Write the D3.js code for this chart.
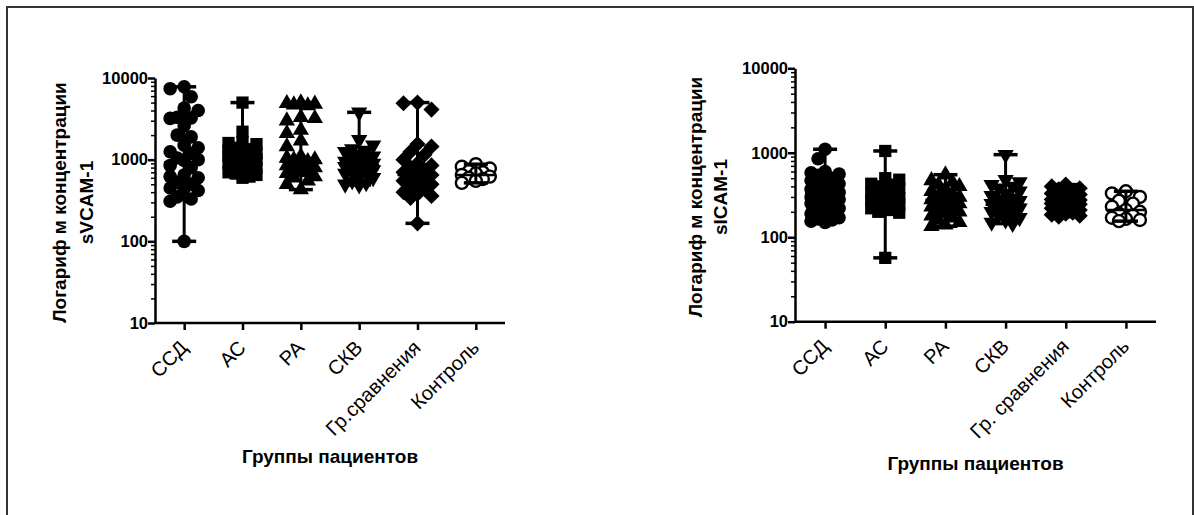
<!DOCTYPE html>
<html>
<head>
<meta charset="utf-8">
<script src="https://cdn.jsdelivr.net/npm/d3@7"></script>
<style>
  body { margin: 0; background: #fff; }
  text { font-family: Arial, "Liberation Sans", sans-serif; fill: #000; }
</style>
</head>
<body>
<svg id="chart" width="1194" height="515"></svg>
<script>
// категории
const groupsV = ["ССД", "АС", "РА", "СКВ", "Гр.сравнения", "Контроль"];
const groupsI = ["ССД", "АС", "РА", "СКВ", "Гр. сравнения", "Контроль"];
const shapes = ["circle", "square", "triangle", "triangleDown", "diamond", "open"];
const yTicks = [10, 100, 1000, 10000];

// sVCAM-1
const vcamSSD = [7800, 7400, 5900, 4300, 4000, 3300, 3250, 3200, 2600, 2000, 1900, 1500, 1400, 1250, 1200, 1050, 1000, 980, 850, 800, 650, 620, 600, 530, 500, 450, 440, 420, 350, 330, 310, 100];
const vcamAS = [5000, 2200, 1650, 1600, 1550, 1400, 1350, 1300, 1250, 1200, 1150, 1100, 1100, 1050, 1000, 1000, 950, 900, 900, 850, 800, 780, 750, 700, 680, 650, 620, 600];
const vcamRA = [5000, 4900, 4800, 4700, 4600, 3300, 3200, 3000, 2300, 2100, 1700, 1450, 1100, 1050, 1000, 1000, 950, 900, 850, 800, 780, 720, 700, 680, 620, 600, 550, 500, 430];
const vcamSKV = [3800, 1750, 1500, 1350, 1300, 1250, 1150, 1100, 1050, 1000, 950, 920, 900, 880, 860, 820, 800, 750, 720, 700, 680, 620, 600, 550, 520, 500, 490];
const vcamGr = [5000, 4900, 4100, 1550, 1450, 1250, 1150, 1000, 900, 850, 800, 750, 700, 680, 650, 620, 580, 550, 520, 500, 460, 440, 400, 380, 360, 340, 166];
const vcamCtrl = [880, 820, 780, 720, 700, 680, 650, 620, 600, 580, 550, 520];
const vcamMedian = [930, 1050, 950, 860, 650, 650];

// sICAM-1
const icamSSD = [1100, 850, 600, 580, 560, 540, 500, 470, 450, 430, 400, 380, 370, 350, 340, 330, 320, 300, 290, 280, 270, 260, 250, 240, 220, 210, 200, 190, 180, 170, 165, 160, 155, 150];
const icamAS = [1050, 500, 480, 430, 420, 400, 380, 350, 330, 310, 300, 290, 280, 270, 260, 250, 240, 230, 220, 210, 200, 195, 57];
const icamRA = [550, 470, 450, 420, 400, 370, 350, 330, 310, 300, 290, 280, 270, 260, 250, 240, 230, 220, 210, 200, 190, 180, 170, 160, 150, 140, 135];
const icamSKV = [950, 480, 450, 420, 400, 380, 350, 330, 310, 290, 280, 270, 260, 250, 240, 230, 220, 210, 200, 190, 180, 170, 160, 150, 145];
const icamGr = [420, 400, 380, 370, 350, 340, 330, 320, 310, 300, 290, 280, 275, 270, 260, 255, 250, 245, 240, 230, 225, 220, 210, 200, 195, 190, 185, 180, 175];
const icamCtrl = [350, 330, 300, 270, 250, 230, 210, 200, 190, 180, 170, 165, 160, 155];
const icamMedian = [333, 291, 278, 243, 256, 210];

const svg = d3.select("#chart");

// рамка
svg.append("rect")
    .attr("x", 7).attr("y", 7)
    .attr("width", 1186).attr("height", 520)
    .attr("fill", "none")
    .attr("stroke", "#333")
    .attr("stroke-width", 2);

// раскладка точек, чтобы не слипались (похоже на Prism)
function swarm(vals, y, minDist, step, maxOff) {
    const placed = [];
    const pts = vals.map(v => ({ v: v, py: y(v) })).sort((a, b) => a.py - b.py);
    pts.forEach((p, i) => {
        let best = null, fallback = 0, bestD = -1;
        for (let k = 0; k * step <= maxOff && best === null; k++) {
            const s = i % 2 ? -1 : 1;
            const cands = k === 0 ? [0] : [s * k * step, -s * k * step];
            for (const dx of cands) {
                const d = placed.length ? d3.min(placed, q => Math.hypot(q.dx - dx, q.py - p.py)) : Infinity;
                if (d >= minDist) { best = dx; break; }
                if (d > bestD) { bestD = d; fallback = dx; }
            }
        }
        p.dx = best !== null ? best : fallback;
        placed.push(p);
    });
    return pts;
}

function marker(g, shape) {
    if (shape === "circle") {
        g.append("circle").attr("r", 6.8).attr("fill", "#000");
    } else if (shape === "open") {
        g.append("circle").attr("r", 6).attr("fill", "#fff").attr("stroke", "#000").attr("stroke-width", 2.4);
    } else if (shape === "square") {
        g.append("path").attr("d", d3.symbol(d3.symbolSquare, 150)()).attr("fill", "#000");
    } else if (shape === "triangle") {
        g.append("path").attr("d", d3.symbol(d3.symbolTriangle, 115)()).attr("fill", "#000");
    } else if (shape === "triangleDown") {
        g.append("path").attr("d", d3.symbol(d3.symbolTriangle, 115)()).attr("transform", "rotate(180)").attr("fill", "#000");
    } else if (shape === "diamond") {
        g.append("path").attr("d", d3.symbol(d3.symbolSquare, 130)()).attr("transform", "rotate(45)").attr("fill", "#000");
    }
}

function drawChart(opt) {
    const x = d3.scalePoint()
        .domain(opt.groups)
        .range([opt.x0, opt.x1])
        .padding(0.5);
    const y = d3.scaleLog()
        .domain([10, 10000])
        .range([opt.yBot, opt.yTop]);

    const g = svg.append("g");

    // точки
    opt.series.forEach((vals, i) => {
        const cx = x(opt.groups[i]);
        const pts = swarm(vals, y, 10, 7, 15);
        pts.forEach(p => {
            const m = g.append("g").attr("transform", `translate(${cx + p.dx},${p.py})`);
            marker(m, shapes[i]);
        });
    });

    // медиана и размах
    opt.series.forEach((vals, i) => {
        const cx = x(opt.groups[i]);
        const [lo, hi] = d3.extent(vals);
        g.append("line")
            .attr("x1", cx).attr("x2", cx)
            .attr("y1", y(lo)).attr("y2", y(hi))
            .attr("stroke", "#000").attr("stroke-width", 3);
        [lo, hi].forEach(v => {
            g.append("line")
                .attr("x1", cx - 12).attr("x2", cx + 12)
                .attr("y1", y(v)).attr("y2", y(v))
                .attr("stroke", "#000").attr("stroke-width", 3.5);
        });
        g.append("line")
            .attr("x1", cx - 20).attr("x2", cx + 20)
            .attr("y1", y(opt.median[i])).attr("y2", y(opt.median[i]))
            .attr("stroke", "#000").attr("stroke-width", 2.5);
    });

    // ось Y
    const minor = [];
    [10, 100, 1000].forEach(d => { for (let k = 2; k <= 9; k++) minor.push(d * k); });
    const yMinor = g.append("g")
        .attr("transform", `translate(${opt.x0},0)`)
        .call(d3.axisLeft(y).tickValues(minor).tickSize(4).tickFormat(""));
    yMinor.select(".domain").remove();
    yMinor.selectAll("line").attr("stroke-width", 1.5);

    const yAxis = g.append("g")
        .attr("transform", `translate(${opt.x0},0)`)
        .call(d3.axisLeft(y).tickValues(yTicks).tickSize(7).tickSizeOuter(0).tickFormat(d3.format("d")));
    yAxis.select(".domain").attr("stroke-width", 2.5);
    yAxis.selectAll(".tick line").attr("stroke-width", 2.5);
    yAxis.selectAll(".tick text")
        .attr("x", -7)
        .style("font-size", "16.5px")
        .style("font-weight", "bold");

    // ось X
    const xAxis = g.append("g")
        .attr("transform", `translate(0,${opt.yBot})`)
        .call(d3.axisBottom(x).tickSize(7).tickSizeOuter(0));
    xAxis.select(".domain").attr("d", `M${opt.x0},0H${opt.x1}`).attr("stroke-width", 2.5);
    xAxis.selectAll(".tick line").attr("stroke-width", 2.5);
    xAxis.selectAll(".tick text")
        .attr("text-anchor", "end")
        .attr("x", 0).attr("y", 0).attr("dy", 0)
        .attr("transform", "translate(4,26) rotate(-45)")
        .style("font-size", "20px");

    // подписи осей
    const yMid = (opt.yTop + opt.yBot) / 2 + 2;
    opt.yTitle.forEach((t, k) => {
        g.append("text")
            .attr("transform", `translate(${opt.yTitleX[k]},${yMid}) rotate(-90)`)
            .attr("text-anchor", "middle")
            .style("font-size", "19px")
            .style("font-weight", "bold")
            .text(t);
    });
    g.append("text")
        .attr("x", (opt.x0 + opt.x1) / 2)
        .attr("y", opt.xTitleY)
        .attr("text-anchor", "middle")
        .style("font-size", "19px")
        .style("font-weight", "bold")
        .text("Группы пациентов");
}

drawChart({
    groups: groupsV,
    series: [vcamSSD, vcamAS, vcamRA, vcamSKV, vcamGr, vcamCtrl],
    median: vcamMedian,
    x0: 155, x1: 505, yTop: 78, yBot: 323,
    yTitle: ["Логариф м концентрации", "sVCAM-1"],
    yTitleX: [66, 93],
    xTitleY: 463
});

drawChart({
    groups: groupsI,
    series: [icamSSD, icamAS, icamRA, icamSKV, icamGr, icamCtrl],
    median: icamMedian,
    x0: 795, x1: 1156, yTop: 68.3, yBot: 321.7,
    yTitle: ["Логариф м концентрации", "sICAM-1"],
    yTitleX: [702, 727],
    xTitleY: 470
});
</script>
</body>
</html>
